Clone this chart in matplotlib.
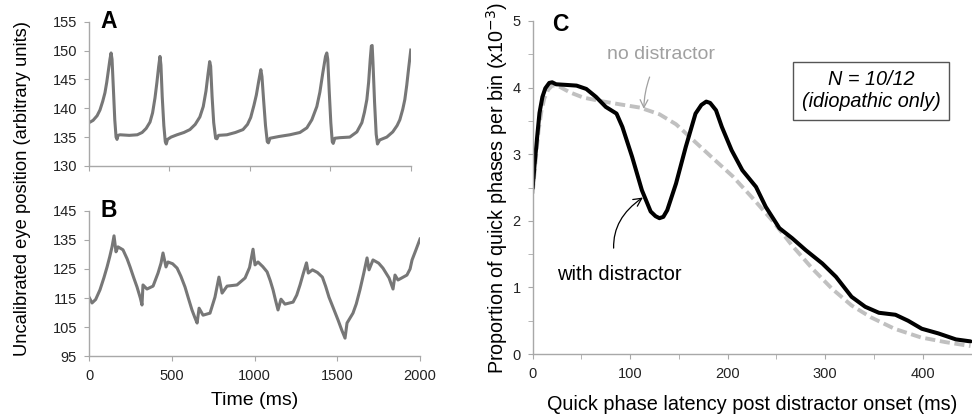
import numpy as np
import matplotlib
matplotlib.use('Agg')
import matplotlib.pyplot as plt
from matplotlib.ticker import MultipleLocator

plt.rcParams['font.family'] = ['Liberation Sans', 'DejaVu Sans']

# ---- panel A: jerk nystagmus trace (time ms, position a.u.)
tA = [0, 25, 50, 68, 85, 99, 110, 120, 130, 137, 143, 152, 160, 168, 174, 180, 193,
      250, 300, 330, 355, 379, 395, 410, 422, 433, 441, 447, 455, 465, 474, 480, 488,
      510, 547, 590, 627, 660, 689, 710, 727, 740, 750, 756, 765, 775, 787, 795, 805,
      857, 910, 957, 985, 1005, 1025, 1040, 1056, 1068, 1075, 1085, 1097, 1108, 1115,
      1125, 1180, 1248, 1311, 1354, 1385, 1416, 1435, 1453, 1470, 1478, 1484, 1493,
      1503, 1512, 1518, 1528, 1560, 1621, 1665, 1696, 1712, 1727, 1738, 1748, 1755,
      1760, 1765, 1775, 1785, 1793, 1807, 1851, 1888, 1915, 1932, 1950, 1963, 1975,
      1987, 2000]
yA = [137.5, 137.9, 138.7, 139.7, 141.2, 142.7, 144.5, 146.5, 148.5, 149.6, 148.5,
      143, 138, 135, 134.6, 135.3, 135.4, 135.3, 135.4, 135.8, 136.5, 137.6, 139.2,
      141.8, 144.5, 147.3, 149.0, 147.5, 142, 137, 134.2, 133.8, 134.6, 135.0, 135.4,
      135.8, 136.3, 137.2, 138.5, 140.3, 143.0, 146, 148.1, 147.3, 142, 137.5, 134.8,
      134.7, 135.3, 135.4, 135.8, 136.3, 137.2, 138.4, 140.5, 142.3, 144.9, 146.7,
      145.5, 141.5, 137, 134.2, 134.0, 134.8, 135.1, 135.4, 135.8, 136.6, 138, 140.3,
      142.8, 146.1, 149.0, 149.6, 148.5, 143, 137.5, 134.2, 133.9, 134.8, 134.9,
      135.0, 135.9, 137.5, 139.3, 141.5, 144.5, 148.5, 150.8, 150.9, 148, 141, 135.5,
      133.8, 134.5, 135.0, 135.9, 137, 138.0, 139.8, 141.5, 144, 147, 150.1]

# ---- panel B: pendular-like trace
tB = [0, 18, 40, 66, 90, 109, 125, 139, 151, 163, 175, 205, 230, 248, 270, 290, 310,
      320, 326, 350, 387, 417, 435, 447, 465, 477, 505, 532, 555, 580, 600, 622, 640,
      653, 665, 689, 731, 761, 785, 804, 834, 894, 943, 970, 991, 1003, 1021, 1050,
      1076, 1095, 1112, 1128, 1142, 1160, 1184, 1233, 1255, 1275, 1295, 1314, 1325,
      1350, 1380, 1410, 1430, 1450, 1480, 1505, 1527, 1547, 1559, 1595, 1615, 1637,
      1660, 1680, 1692, 1716, 1750, 1776, 1813, 1837, 1849, 1867, 1921, 1940, 1952,
      1975, 2000]
yB = [115.3, 113.3, 114.5, 117.8, 122.0, 125.7, 129.2, 132.6, 136.4, 130.9, 132.6,
      131.6, 128.5, 125.7, 122.0, 118.8, 115.0, 112.6, 119.5, 118.1, 119.1, 123.6,
      127.0, 130.5, 125.7, 127.4, 126.8, 125.3, 122.5, 118.8, 115.0, 110.9, 108.2,
      106.4, 111.5, 109.1, 109.8, 115.3, 122.2, 116.7, 119.1, 119.5, 121.9, 125.5,
      131.8, 126.4, 127.4, 125.8, 124.0, 121.0, 117.8, 114.0, 110.9, 114.6, 112.9,
      113.6, 116.0, 119.5, 123.5, 127.1, 123.6, 124.7, 123.8, 122.2, 119.0, 115.3,
      111.0, 107.4, 104.0, 101.2, 106.4, 109.8, 113.0, 117.8, 123.5, 128.8, 124.7,
      128.1, 127.0, 125.3, 121.9, 118.1, 122.9, 121.2, 122.9, 125.0, 128.1, 131.5,
      135.3]

# ---- panel C: latency distributions (x10^-3 per bin)
lat_with = [0, 2, 5, 7, 10, 13, 17, 20, 24, 35, 45, 55, 65, 75, 86, 92, 102, 112, 121,
            126, 130, 134, 138, 147, 157, 167, 173, 178, 182, 188, 194, 204, 215, 229,
            239, 253, 266, 280, 297, 311, 327, 341, 355, 372, 385, 399, 416, 434, 449]
p_with = [2.49, 2.85, 3.32, 3.62, 3.86, 3.99, 4.07, 4.08, 4.05, 4.04, 4.03, 3.98, 3.86,
          3.71, 3.61, 3.41, 2.96, 2.46, 2.14, 2.07, 2.04, 2.06, 2.16, 2.56, 3.11, 3.61,
          3.74, 3.79, 3.77, 3.66, 3.41, 3.06, 2.76, 2.51, 2.21, 1.89, 1.74, 1.56, 1.36,
          1.16, 0.86, 0.71, 0.62, 0.59, 0.50, 0.38, 0.31, 0.22, 0.19]
lat_no = [0, 3, 6, 9, 12, 16, 20, 24, 28, 38, 52, 69, 89, 110, 130, 147, 164, 184, 205,
          225, 246, 266, 287, 307, 327, 347, 371, 398, 423, 449]
p_no = [2.41, 2.9, 3.35, 3.65, 3.84, 3.97, 4.03, 4.03, 4.01, 3.93, 3.85, 3.80, 3.75,
        3.70, 3.60, 3.45, 3.22, 2.95, 2.67, 2.35, 2.00, 1.63, 1.28, 0.98, 0.73, 0.55,
        0.38, 0.25, 0.18, 0.12]

trace_col = '#777777'
spine_col = '#a8a8a8'

fig = plt.figure(figsize=(9.72, 4.2), dpi=100)
axA = fig.add_axes([0.0916, 0.605, 0.331, 0.343])
axB = fig.add_axes([0.0916, 0.152, 0.3405, 0.346])
axC = fig.add_axes([0.548, 0.157, 0.4515, 0.793])

def style(ax):
    for s in ['top', 'right']:
        ax.spines[s].set_visible(False)
    for s in ['left', 'bottom']:
        ax.spines[s].set_color(spine_col)
        ax.spines[s].set_linewidth(1.0)
    ax.tick_params(which='both', direction='out', color=spine_col, labelsize=10.5,
                   labelcolor='#222222', length=3.6)
    ax.tick_params(axis='x', which='both', pad=6)
    ax.tick_params(axis='y', which='both', pad=5)

axA.plot(tA, yA, color=trace_col, lw=2.2, solid_joinstyle='round')
axA.set_xlim(0, 2000)
axA.set_ylim(130, 155)
axA.set_yticks(np.arange(130, 156, 5))
axA.set_xticks([0, 500, 1000, 1500, 2000])
axA.set_xticklabels([])
style(axA)
axA.text(0.034, 1.0, 'A', transform=axA.transAxes, fontsize=16.5, fontweight='bold',
         ha='left', va='center')

axB.plot(tB, yB, color=trace_col, lw=2.2, solid_joinstyle='round')
axB.set_xlim(0, 2000)
axB.set_ylim(95, 145)
axB.set_yticks(np.arange(95, 146, 10))
axB.set_xticks([0, 500, 1000, 1500, 2000])
style(axB)
axB.set_xlabel('Time (ms)', fontsize=14, labelpad=6)
axB.text(0.034, 1.0, 'B', transform=axB.transAxes, fontsize=16.5, fontweight='bold',
         ha='left', va='center')

fig.text(0.023, 0.55, 'Uncalibrated eye position (arbitrary units)', rotation=90,
         fontsize=13.2, ha='center', va='center')

axC.plot(lat_no, p_no, color='#c0c0c0', lw=2.8, ls=(0, (2.6, 1.2)))
axC.plot(lat_with, p_with, color='black', lw=2.9, solid_joinstyle='round',
         solid_capstyle='round')
axC.set_xlim(0, 450)
axC.set_ylim(0, 5)
axC.set_xticks([0, 100, 200, 300, 400])
axC.xaxis.set_minor_locator(MultipleLocator(50))
axC.yaxis.set_minor_locator(MultipleLocator(0.5))
style(axC)
axC.set_xlabel('Quick phase latency post distractor onset (ms)', fontsize=14.3, labelpad=10)
axC.set_ylabel('Proportion of quick phases per bin (x10$^{-3}$)', fontsize=14.2, labelpad=2)
axC.text(0.063, 0.99, 'C', transform=axC.transAxes, fontsize=16.5, fontweight='bold',
         ha='center', va='center')

axC.text(347, 3.95, 'N = 10/12\n(idiopathic only)', fontsize=14.3, style='italic',
         ha='center', va='center', linespacing=1.2,
         bbox=dict(boxstyle='square,pad=0.42', fc='white', ec='#555555', lw=1.0))

axC.annotate('no distractor', xy=(114, 3.68), xytext=(132, 4.5), fontsize=14,
             color='#a0a0a0', ha='center', va='center',
             arrowprops=dict(arrowstyle='->', color='#a0a0a0', lw=0.9,
                             shrinkA=9, shrinkB=0, connectionstyle='arc3,rad=0.15'))
axC.annotate('with distractor', xy=(113, 2.35), xytext=(89, 1.2), fontsize=14.5,
             color='black', ha='center', va='center',
             arrowprops=dict(arrowstyle='->', color='black', lw=0.9,
                             shrinkA=10, shrinkB=0, connectionstyle='arc3,rad=-0.4'))

fig.savefig('out.png', dpi=100)
